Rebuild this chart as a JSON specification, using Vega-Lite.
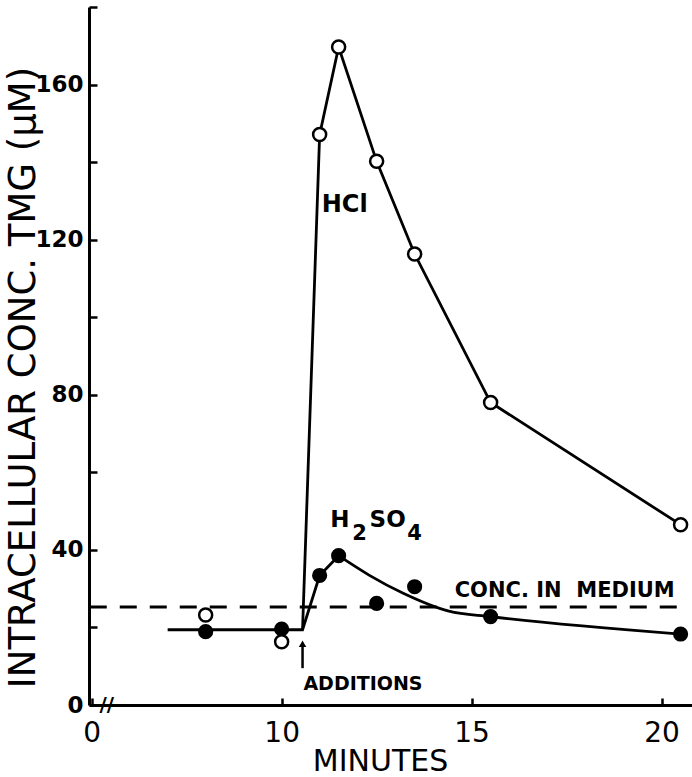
{
  "$schema": "https://vega.github.io/schema/vega-lite/v6.json",
  "width": 603,
  "height": 698,
  "autosize": {"type": "none"},
  "padding": {"left": 89, "top": 7, "right": 0, "bottom": 72},
  "background": "white",
  "config": {"view": {"stroke": null}, "font": "DejaVu Sans"},
  "datasets": {
    "hcl": [
      {"minutes": 8, "conc": 23.2}, {"minutes": 10, "conc": 16.3}, {"minutes": 11, "conc": 147.1},
      {"minutes": 11.5, "conc": 169.7}, {"minutes": 12.5, "conc": 140.2}, {"minutes": 13.5, "conc": 116.3},
      {"minutes": 15.5, "conc": 78}, {"minutes": 20.5, "conc": 46.5}
    ],
    "h2so4": [
      {"minutes": 8, "conc": 18.9}, {"minutes": 10, "conc": 19.6}, {"minutes": 11, "conc": 33.4},
      {"minutes": 11.5, "conc": 38.5}, {"minutes": 12.5, "conc": 26.2}, {"minutes": 13.5, "conc": 30.5},
      {"minutes": 15.5, "conc": 22.8}, {"minutes": 20.5, "conc": 18.3}
    ],
    "hclLine": [
      {"minutes": 10.55, "conc": 19.4}, {"minutes": 11, "conc": 147.1}, {"minutes": 11.5, "conc": 169.7},
      {"minutes": 12.5, "conc": 140.2}, {"minutes": 13.5, "conc": 116.3}, {"minutes": 15.5, "conc": 78},
      {"minutes": 20.5, "conc": 46.5}
    ],
    "h2so4Straight": [
      {"minutes": 7.0, "conc": 19.4}, {"minutes": 10.55, "conc": 19.4}, {"minutes": 11, "conc": 33.4},
      {"minutes": 11.5, "conc": 38.5}
    ],
    "h2so4Curve": [
      {"minutes": 11.5, "conc": 38.5}, {"minutes": 12.3, "conc": 33.5}, {"minutes": 13.2, "conc": 28.8},
      {"minutes": 14.4, "conc": 24.2}, {"minutes": 15.5, "conc": 22.8}, {"minutes": 20.5, "conc": 18.3}
    ],
    "medium": [{"minutes": 4.95, "conc": 25.3}, {"minutes": 20.55, "conc": 25.3}]
  },
  "encoding": {
    "x": {
      "field": "minutes", "type": "quantitative",
      "scale": {"domain": [4.93, 20.8], "nice": false, "zero": false},
      "axis": {
        "values": [5, 10, 15, 20],
        "labelExpr": "datum.value == 5 ? '0' : datum.label",
        "grid": false, "domainColor": "black", "domainWidth": 3,
        "tickColor": "black", "tickWidth": 2.5, "tickSize": -7,
        "labelPadding": 21, "labelFontSize": 28, "labelColor": "black", "labelFont": "DejaVu Sans",
        "title": "MINUTES", "titleFontSize": 30, "titleFontWeight": "normal", "titleColor": "black",
        "titleX": 291, "titleY": 65, "titleBaseline": "alphabetic", "titleAlign": "center"
      }
    },
    "y": {
      "field": "conc", "type": "quantitative",
      "scale": {"domain": [0, 180], "nice": false},
      "axis": {
        "values": [0, 20, 40, 60, 80, 100, 120, 140, 160, 180],
        "labelExpr": "datum.value % 40 == 0 ? datum.label : ''",
        "grid": false, "domainColor": "black", "domainWidth": 3,
        "tickColor": "black", "tickWidth": 2.5, "tickSize": -8,
        "labelPadding": 14, "labelFontSize": 23, "labelFontWeight": "bold", "labelColor": "black",
        "title": "INTRACELLULAR CONC. TMG (μM)", "titleFontSize": 37, "titleFontWeight": "normal",
        "titleColor": "black", "titleAngle": -90, "titleX": -55, "titleY": 370,
        "titleBaseline": "alphabetic", "titleAlign": "center"
      }
    }
  },
  "layer": [
    {"data": {"name": "medium"}, "mark": {"type": "line", "color": "black", "strokeWidth": 3, "strokeDash": [17, 13]}},
    {"data": {"name": "h2so4Straight"}, "mark": {"type": "line", "color": "black", "strokeWidth": 2.8}},
    {"data": {"name": "h2so4Curve"}, "mark": {"type": "line", "color": "black", "strokeWidth": 2.8, "interpolate": "monotone"}},
    {"data": {"name": "hclLine"}, "mark": {"type": "line", "color": "black", "strokeWidth": 2.8}},
    {"data": {"name": "h2so4"}, "mark": {"type": "point", "shape": "circle", "filled": true, "color": "black", "size": 230, "opacity": 1}},
    {"data": {"name": "hcl"}, "mark": {"type": "point", "shape": "circle", "filled": false, "fill": "white", "fillOpacity": 1, "stroke": "black", "strokeWidth": 2.5, "size": 170, "opacity": 1}},
    {"data": {"values": [{"minutes": 11.66, "conc": 128.9, "label": "HCl"}]},
     "mark": {"type": "text", "fontSize": 24, "fontWeight": "bold", "align": "center", "baseline": "middle", "color": "black"},
     "encoding": {"text": {"field": "label"}}},
    {"data": {"values": [{"minutes": 11.53, "conc": 45.9, "label": "H"}, {"minutes": 12.79, "conc": 45.9, "label": "SO"}]},
     "mark": {"type": "text", "fontSize": 23, "fontWeight": "bold", "align": "center", "baseline": "alphabetic", "color": "black"},
     "encoding": {"text": {"field": "label"}}},
    {"data": {"values": [{"minutes": 12.05, "conc": 42.6, "label": "2"}, {"minutes": 13.5, "conc": 42.6, "label": "4"}]},
     "mark": {"type": "text", "fontSize": 21, "fontWeight": "bold", "align": "center", "baseline": "alphabetic", "color": "black"},
     "encoding": {"text": {"field": "label"}}},
    {"data": {"values": [{"minutes": 17.45, "conc": 27.85, "label": "CONC. IN\u00a0 MEDIUM"}]},
     "mark": {"type": "text", "fontSize": 21, "fontWeight": "bold", "align": "center", "baseline": "alphabetic", "color": "black"},
     "encoding": {"text": {"field": "label"}}},
    {"data": {"values": [{"minutes": 12.14, "conc": 3.9, "label": "ADDITIONS"}]},
     "mark": {"type": "text", "fontSize": 19, "fontWeight": "bold", "align": "center", "baseline": "alphabetic", "color": "black"},
     "encoding": {"text": {"field": "label"}}},
    {"data": {"values": [{"minutes": 10.55, "conc": 9.5, "top": 15}]},
     "mark": {"type": "rule", "color": "black", "strokeWidth": 2.5},
     "encoding": {"y2": {"field": "top"}}},
    {"data": {"values": [{"minutes": 10.55, "conc": 15.8}]},
     "mark": {"type": "point", "shape": "triangle-up", "filled": true, "color": "black", "size": 55, "opacity": 1}},
    {"data": {"values": [{"minutes": 5.4, "conc": 0, "label": "//"}]},
     "mark": {"type": "text", "fontSize": 20, "fontWeight": "bold", "align": "center", "baseline": "middle", "color": "black"},
     "encoding": {"text": {"field": "label"}}}
  ]
}
